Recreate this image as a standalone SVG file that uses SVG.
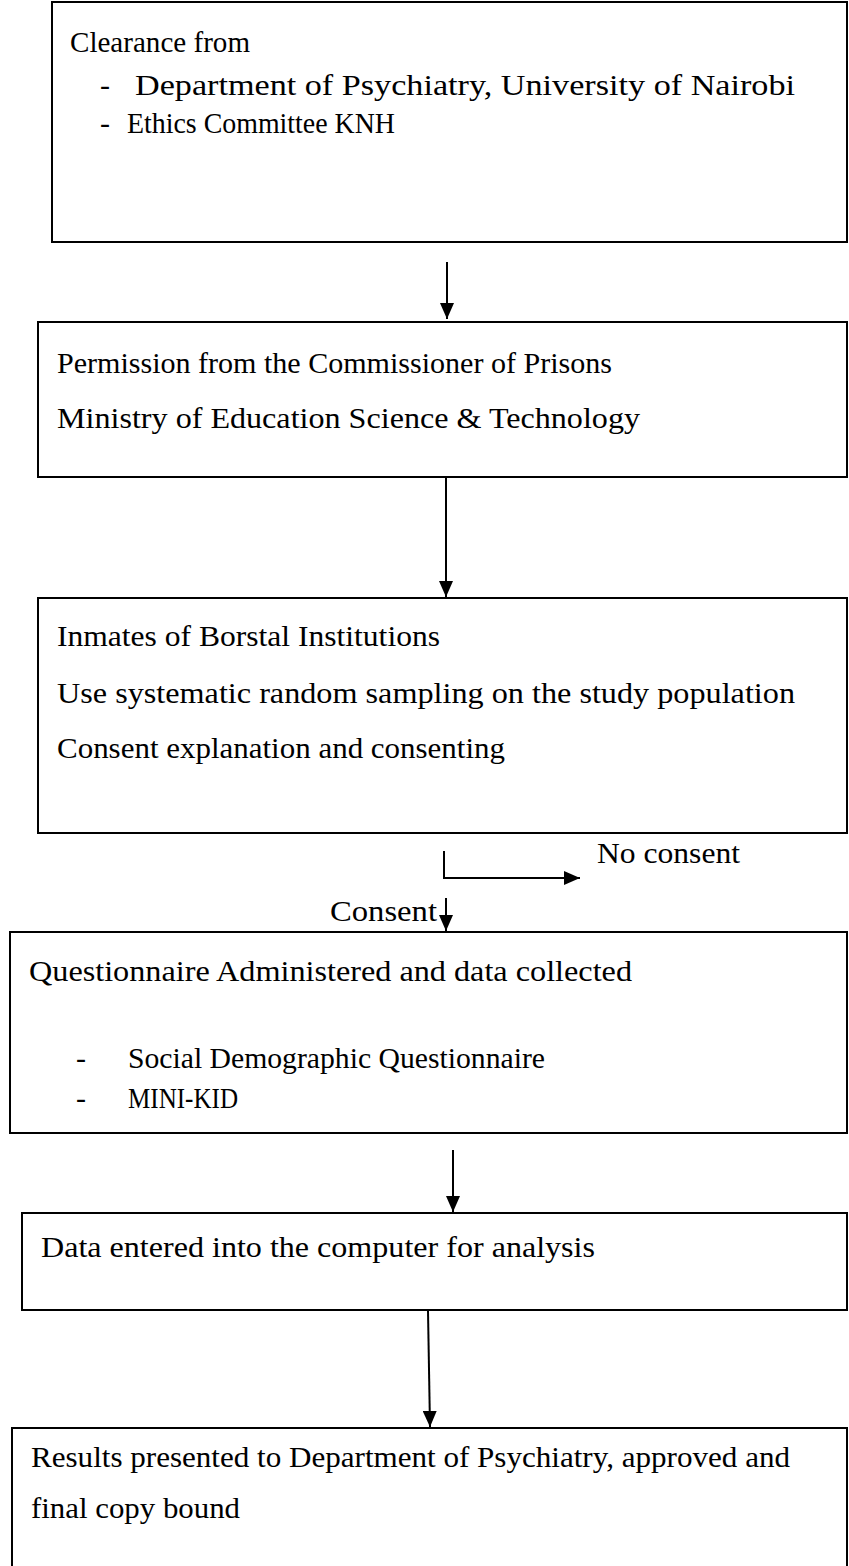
<svg xmlns="http://www.w3.org/2000/svg" width="849" height="1566" viewBox="0 0 849 1566">
<style>
.box{fill:#fff;stroke:#000;stroke-width:2}
.t{font-family:"Liberation Serif","Times New Roman",serif;font-size:30px;fill:#000}
.c{stroke:#000;stroke-width:2;fill:none}
</style>
<defs>
<marker id="ah" viewBox="0 0 16 14" refX="16" refY="7" markerWidth="16" markerHeight="14" orient="auto" markerUnits="userSpaceOnUse">
<path d="M0,0 L16,7 L0,14 Z" fill="#000"/>
</marker>
</defs>
<rect width="849" height="1566" fill="#fff"/>
<g id="n1">
<rect class="box" x="52" y="2" width="795" height="240"/>
<text class="t" x="70" y="52" textLength="180" lengthAdjust="spacingAndGlyphs">Clearance from</text>
<text class="t" x="100" y="95">-</text>
<text class="t" x="135" y="95" textLength="660" lengthAdjust="spacingAndGlyphs">Department of Psychiatry, University of Nairobi</text>
<text class="t" x="100" y="133">-</text>
<text class="t" x="127" y="133" textLength="268" lengthAdjust="spacingAndGlyphs">Ethics Committee KNH</text>
</g>
<g id="n2">
<rect class="box" x="38" y="322" width="809" height="155"/>
<text class="t" x="57" y="373" textLength="555" lengthAdjust="spacingAndGlyphs">Permission from the Commissioner of Prisons</text>
<text class="t" x="57" y="428" textLength="583" lengthAdjust="spacingAndGlyphs">Ministry of Education Science &amp; Technology</text>
</g>
<g id="n3">
<rect class="box" x="38" y="598" width="809" height="235"/>
<text class="t" x="57" y="646" textLength="383" lengthAdjust="spacingAndGlyphs">Inmates of Borstal Institutions</text>
<text class="t" x="57" y="703" textLength="738" lengthAdjust="spacingAndGlyphs">Use systematic random sampling on the study population</text>
<text class="t" x="57" y="758" textLength="448" lengthAdjust="spacingAndGlyphs">Consent explanation and consenting</text>
</g>
<g id="n4">
<rect class="box" x="10" y="932" width="837" height="201"/>
<text class="t" x="29" y="981" textLength="603" lengthAdjust="spacingAndGlyphs">Questionnaire Administered and data collected</text>
<text class="t" x="76" y="1068">-</text>
<text class="t" x="128" y="1068" textLength="417" lengthAdjust="spacingAndGlyphs">Social Demographic Questionnaire</text>
<text class="t" x="76" y="1108">-</text>
<text class="t" x="128" y="1108" textLength="110" lengthAdjust="spacingAndGlyphs">MINI-KID</text>
</g>
<g id="n5">
<rect class="box" x="22" y="1213" width="825" height="97"/>
<text class="t" x="41" y="1257" textLength="554" lengthAdjust="spacingAndGlyphs">Data entered into the computer for analysis</text>
</g>
<g id="n6">
<rect class="box" x="12" y="1428" width="835" height="160"/>
<text class="t" x="31" y="1467" textLength="759" lengthAdjust="spacingAndGlyphs">Results presented to Department of Psychiatry, approved and</text>
<text class="t" x="31" y="1518" textLength="209" lengthAdjust="spacingAndGlyphs">final copy bound</text>
</g>
<g id="labels">
<text class="t" x="597" y="863" textLength="143" lengthAdjust="spacingAndGlyphs">No consent</text>
<text class="t" x="330" y="921" textLength="107" lengthAdjust="spacingAndGlyphs">Consent</text>
</g>
<g id="connectors">
<line class="c" x1="447" y1="262" x2="447" y2="319" marker-end="url(#ah)"/>
<line class="c" x1="446" y1="478" x2="446" y2="597" marker-end="url(#ah)"/>
<polyline class="c" points="444,851 444,878 580,878" marker-end="url(#ah)"/>
<line class="c" x1="446" y1="898" x2="446" y2="931" marker-end="url(#ah)"/>
<line class="c" x1="453" y1="1150" x2="453" y2="1212" marker-end="url(#ah)"/>
<line class="c" x1="428" y1="1311" x2="430" y2="1427" marker-end="url(#ah)"/>
</g>
</svg>
